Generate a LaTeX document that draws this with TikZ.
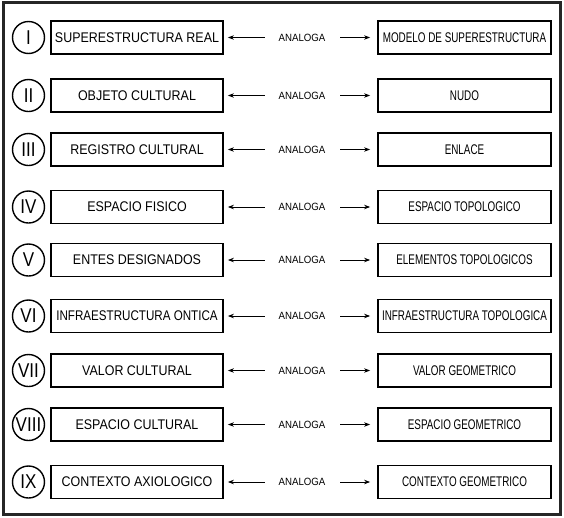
\documentclass[tikz,border=0pt]{standalone}
\usepackage{fontspec}
\setmainfont{Liberation Sans}
\usepackage{graphicx}
\usetikzlibrary{arrows.meta}
\newcommand{\narrowtxt}[2]{\scalebox{#1}[1]{#2}}
\begin{document}
\begin{tikzpicture}[x=1pt,y=-1pt,
  frame/.style={draw=black!85,line width=3pt},
  numcirc/.style={draw,circle,line width=1.4pt,minimum size=32pt,inner sep=0pt,
    font=\fontsize{20}{21}\selectfont},
  lbox/.style={draw,line width=1.8pt,minimum width=172pt,minimum height=33pt,inner sep=0pt,
    font=\fontsize{14}{15}\selectfont},
  rbox/.style={draw,line width=1.8pt,minimum width=173pt,minimum height=33pt,inner sep=0pt,
    font=\fontsize{14}{15}\selectfont},
  analog/.style={minimum width=48pt,inner sep=0pt,font=\fontsize{10.5}{11}\selectfont},
  arr/.style={line width=0.8pt,-{Stealth[length=6pt,width=4.5pt]}}
]
\useasboundingbox (0,0) rectangle (564,517);
\draw[frame] (3,2.5) rectangle (560.5,514);
\foreach \y/\num/\lt/\ls/\rt [count=\i] in {
  37.5/I/SUPERESTRUCTURA REAL/0.89/MODELO DE SUPERESTRUCTURA,
  95.5/II/OBJETO CULTURAL/0.89/NUDO,
  149.5/III/REGISTRO CULTURAL/0.89/ENLACE,
  207/IV/ESPACIO FISICO/0.89/ESPACIO TOPOLOGICO,
  260/V/ENTES DESIGNADOS/0.89/ELEMENTOS TOPOLOGICOS,
  316/VI/INFRAESTRUCTURA ONTICA/0.83/INFRAESTRUCTURA TOPOLOGICA,
  370.5/VII/VALOR CULTURAL/0.89/VALOR GEOMETRICO,
  424.5/VIII/ESPACIO CULTURAL/0.89/ESPACIO GEOMETRICO,
  482/IX/CONTEXTO AXIOLOGICO/0.89/CONTEXTO GEOMETRICO}
{
  \node[numcirc] (c\i) at (28.5,\y) {\narrowtxt{0.85}{\num}};
  \node[lbox] (l\i) at (137,\y) {\narrowtxt{\ls}{\lt}};
  \node[rbox] (r\i) at (464.5,\y) {\narrowtxt{0.705}{\rt}};
  \node[analog] (a\i) at (302,\y) {\narrowtxt{0.92}{ANALOGA}};
  \draw[arr,shorten <=13pt,shorten >=4pt] (a\i.west) -- (l\i.east);
  \draw[arr,shorten <=14pt,shorten >=7pt] (a\i.east) -- (r\i.west);
}
\end{tikzpicture}
\end{document}
